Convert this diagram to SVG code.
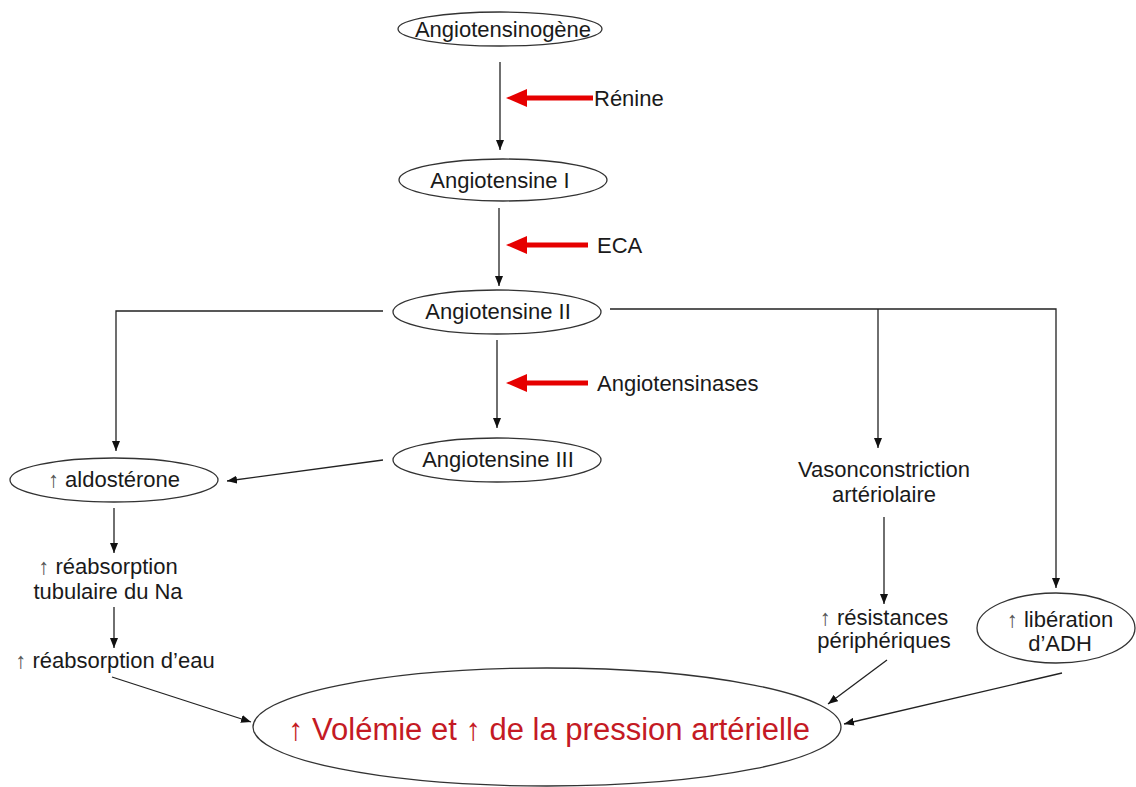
<svg xmlns="http://www.w3.org/2000/svg" width="1136" height="787" viewBox="0 0 1136 787">
<style>
.n{fill:#fff;stroke:#333;stroke-width:1.3}
.t{font-family:"Liberation Sans",Arial,sans-serif;font-size:22px;fill:#1a1a1a;text-anchor:middle}
.l{fill:none;stroke:#222;stroke-width:1.3}
.r{fill:none;stroke:#e60000;stroke-width:5}
.up{fill:#555}
.big{font-family:"Liberation Sans",Arial,sans-serif;font-size:31px;fill:#c41a24;text-anchor:middle}
</style>
<defs>
<marker id="ah" markerUnits="userSpaceOnUse" markerWidth="10" markerHeight="8" refX="10" refY="4" orient="auto">
<path d="M0,0 L10,4 L0,8 z" fill="#111"/>
</marker>
<marker id="rh" markerUnits="userSpaceOnUse" markerWidth="21" markerHeight="18" refX="11" refY="9" orient="auto">
<path d="M0,0 L21,9 L0,18 z" fill="#e60000"/>
</marker>
</defs>
<rect width="1136" height="787" fill="#fff"/>
<g id="connectors">
<line class="l" x1="500" y1="62" x2="500" y2="150" marker-end="url(#ah)"/>
<line class="l" x1="499" y1="208" x2="499" y2="286" marker-end="url(#ah)"/>
<line class="l" x1="497" y1="340" x2="497" y2="428" marker-end="url(#ah)"/>
<path class="l" d="M383,311 H116 V451" marker-end="url(#ah)"/>
<path class="l" d="M610,309 H1056 V588" marker-end="url(#ah)"/>
<path class="l" d="M878,309 V448" marker-end="url(#ah)"/>
<line class="l" x1="383" y1="460" x2="227" y2="481" marker-end="url(#ah)"/>
<line class="l" x1="114" y1="508" x2="114" y2="553" marker-end="url(#ah)"/>
<line class="l" x1="114" y1="607" x2="114" y2="648" marker-end="url(#ah)"/>
<line class="l" x1="112" y1="677" x2="251" y2="722" marker-end="url(#ah)"/>
<line class="l" x1="884" y1="517" x2="884" y2="604" marker-end="url(#ah)"/>
<line class="l" x1="887" y1="660" x2="828" y2="704" marker-end="url(#ah)"/>
<line class="l" x1="1062" y1="673" x2="844" y2="724" marker-end="url(#ah)"/>
<line class="r" x1="593" y1="98" x2="516" y2="98" marker-end="url(#rh)"/>
<line class="r" x1="588" y1="245" x2="516" y2="245" marker-end="url(#rh)"/>
<line class="r" x1="588" y1="383" x2="516" y2="383" marker-end="url(#rh)"/>
</g>
<g id="renine"><text class="t" x="594" y="106" style="text-anchor:start">Rénine</text></g>
<g id="eca"><text class="t" x="597" y="253" style="text-anchor:start">ECA</text></g>
<g id="angiotensinases"><text class="t" x="597" y="391" style="text-anchor:start">Angiotensinases</text></g>
<g id="angiotensinogene">
<ellipse class="n" cx="500" cy="29" rx="102" ry="17"/>
<text class="t" x="503" y="37">Angiotensinogène</text>
</g>
<g id="angiotensine1">
<ellipse class="n" cx="503" cy="180" rx="104" ry="21"/>
<text class="t" x="500" y="188">Angiotensine I</text>
</g>
<g id="angiotensine2">
<ellipse class="n" cx="497" cy="312" rx="104" ry="22"/>
<text class="t" x="498" y="319">Angiotensine II</text>
</g>
<g id="angiotensine3">
<ellipse class="n" cx="497" cy="460" rx="104" ry="22"/>
<text class="t" x="498" y="467">Angiotensine III</text>
</g>
<g id="aldosterone">
<ellipse class="n" cx="114" cy="480" rx="104" ry="22"/>
<text class="t" x="114" y="487"><tspan class="up">↑</tspan> aldostérone</text>
</g>
<g id="reabsorption-na">
<text class="t" x="108" y="574"><tspan class="up">↑</tspan> réabsorption</text>
<text class="t" x="108" y="599">tubulaire du Na</text>
</g>
<g id="reabsorption-eau">
<text class="t" x="115" y="668"><tspan class="up">↑</tspan> réabsorption d’eau</text>
</g>
<g id="vasoconstriction">
<text class="t" x="884" y="477">Vasonconstriction</text>
<text class="t" x="884" y="502">artériolaire</text>
</g>
<g id="resistances">
<text class="t" x="884" y="625"><tspan class="up">↑</tspan> résistances</text>
<text class="t" x="884" y="648">périphériques</text>
</g>
<g id="adh">
<ellipse class="n" cx="1056" cy="628" rx="79" ry="35"/>
<text class="t" x="1060" y="627"><tspan class="up">↑</tspan> libération</text>
<text class="t" x="1060" y="651">d’ADH</text>
</g>
<g id="volemie">
<ellipse class="n" cx="547" cy="727" rx="294" ry="59"/>
<text class="big" x="549" y="740">↑ Volémie et ↑ de la pression artérielle</text>
</g>
</svg>
